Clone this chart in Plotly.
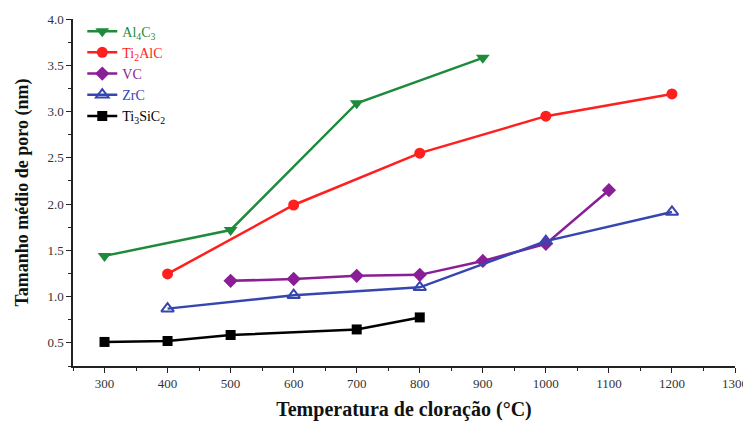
import plotly.graph_objects as go

x_al4c3 = [300, 500, 700, 900]
y_al4c3 = [1.44, 1.72, 3.09, 3.58]
x_ti2alc = [400, 600, 800, 1000, 1200]
y_ti2alc = [1.245, 1.99, 2.55, 2.95, 3.19]
x_vc = [500, 600, 700, 800, 900, 1000, 1100]
y_vc = [1.17, 1.19, 1.225, 1.235, 1.385, 1.57, 2.15]
x_zrc = [400, 600, 800, 1000, 1200]
y_zrc = [0.87, 1.015, 1.10, 1.60, 1.915]
x_ti3sic2 = [300, 400, 500, 700, 800]
y_ti3sic2 = [0.51, 0.52, 0.585, 0.645, 0.775]

series = [
    ("Al<sub>4</sub>C<sub>3</sub>", x_al4c3, y_al4c3, "#1f8a3c", "triangle-down", 12),
    ("Ti<sub>2</sub>AlC", x_ti2alc, y_ti2alc, "#ff1f1f", "circle", 11),
    ("VC", x_vc, y_vc, "#8a1e96", "diamond", 11),
    ("ZrC", x_zrc, y_zrc, "#3646b0", "triangle-up-open", 11),
    ("Ti<sub>3</sub>SiC<sub>2</sub>", x_ti3sic2, y_ti3sic2, "#000000", "square", 10),
]

fig = go.Figure()
for name, xs, ys, color, sym, size in series:
    fig.add_trace(go.Scatter(
        x=xs, y=ys, mode="lines+markers",
        name=f"<span style='color:{color}'>{name}</span>",
        line=dict(color=color, width=2.5),
        marker=dict(symbol=sym, size=size, color=color,
                    line=dict(color=color, width=2 if "open" in sym else 0)),
    ))

ff = "Liberation Serif"
fig.update_layout(
    width=743, height=415,
    margin=dict(l=65, r=16, t=11, b=57, autoexpand=False),
    paper_bgcolor="white", plot_bgcolor="white",
    font=dict(family=ff, color="#333333"),
    showlegend=True,
    legend=dict(x=0.014, y=1.01, xanchor="left", yanchor="top",
                bgcolor="rgba(0,0,0,0)", font=dict(size=14, family=ff),
                tracegroupgap=0, itemwidth=30),
    xaxis=dict(
        range=[250, 1300], tickmode="linear", tick0=300, dtick=100,
        showgrid=False, zeroline=False, showline=True, linecolor="#222222", linewidth=1.5,
        ticks="outside", ticklen=5, tickcolor="#222222", tickwidth=1.2,
        minor=dict(ticks="outside", ticklen=3, dtick=50, tick0=300, tickcolor="#222222", showgrid=False),
        tickfont=dict(size=13, color="#333333", family=ff),
        title=dict(text="<b>Temperatura de cloração (°C)</b>", font=dict(size=20, color="#111111", family=ff), standoff=12),
    ),
    yaxis=dict(
        range=[0.25, 4.0], tickmode="linear", tick0=0.5, dtick=0.5, tickformat=".1f",
        showgrid=False, zeroline=False, showline=True, linecolor="#222222", linewidth=1.5,
        ticks="outside", ticklen=5, tickcolor="#222222", tickwidth=1.2,
        minor=dict(ticks="outside", ticklen=3, dtick=0.25, tick0=0.5, tickcolor="#222222", showgrid=False),
        tickfont=dict(size=13, color="#333333", family=ff),
        title=dict(text="<b>Tamanho médio de poro (nm)</b>", font=dict(size=18, color="#111111", family=ff), standoff=14),
    ),
)

fig.write_html("out.html")
